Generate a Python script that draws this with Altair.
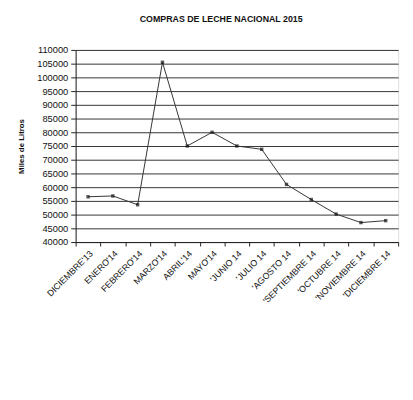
import altair as alt
import pandas as pd

months = ["DICIEMBRE'13", "ENERO'14", "FEBRERO'14", "MARZO'14", "ABRIL'14", "MAYO'14",
          "'JUNIO 14", "'JULIO 14", "'AGOSTO 14", "'SEPTIEMBRE 14", "'OCTUBRE 14",
          "'NOVIEMBRE 14", "'DICIEMBRE 14"]
values = [56500, 56800, 53600, 105500, 75000, 80000, 75000, 73800, 61000, 55500, 50200, 47100, 47800]
y_ticks = list(range(40000, 110001, 5000))

df = pd.DataFrame({"mes": months, "litros": values})

FONT = "Liberation Sans"

x = alt.X("mes:N", sort=None, title=None,
          scale=alt.Scale(paddingInner=0, paddingOuter=0),
          axis=alt.Axis(labelAngle=315, labelAlign="right", labelBaseline="top",
                        tickBand="extent", tickSize=4, labelPadding=3,
                        labelFontSize=9, labelFont=FONT, labelColor="#111",
                        domainColor="#222", tickColor="#222", grid=False))
y = alt.Y("litros:Q", title="Miles de Litros",
          scale=alt.Scale(domain=[40000, 110000], nice=False, zero=False),
          axis=alt.Axis(values=y_ticks, format="d", grid=True, gridColor="#333",
                        gridWidth=1, tickSize=5, labelPadding=3, labelFontSize=9.5,
                        labelFont=FONT, labelColor="#111", domainColor="#222",
                        tickColor="#222", titleFont=FONT, titleFontSize=8,
                        titleFontWeight="bold", titleColor="#111", titlePadding=11))

line = alt.Chart(df).mark_line(color="#333", strokeWidth=1).encode(x=x, y=y)
pts = alt.Chart(df).mark_point(shape="square", filled=True, size=12, color="#111").encode(x=x, y=y)

chart = (line + pts).properties(
    width=329, height=196,
    title=alt.TitleParams("COMPRAS DE LECHE NACIONAL 2015", font=FONT, fontSize=9,
                          fontWeight="bold", color="#111", anchor="middle", dx=-16, offset=22),
    autosize=alt.AutoSizeParams(type="none"),
    padding={"left": 69, "top": 39, "right": 7, "bottom": 140},
).configure_view(stroke=None).configure(background="white")

chart.save("out.html", embed_options={"renderer": "svg", "actions": False})
